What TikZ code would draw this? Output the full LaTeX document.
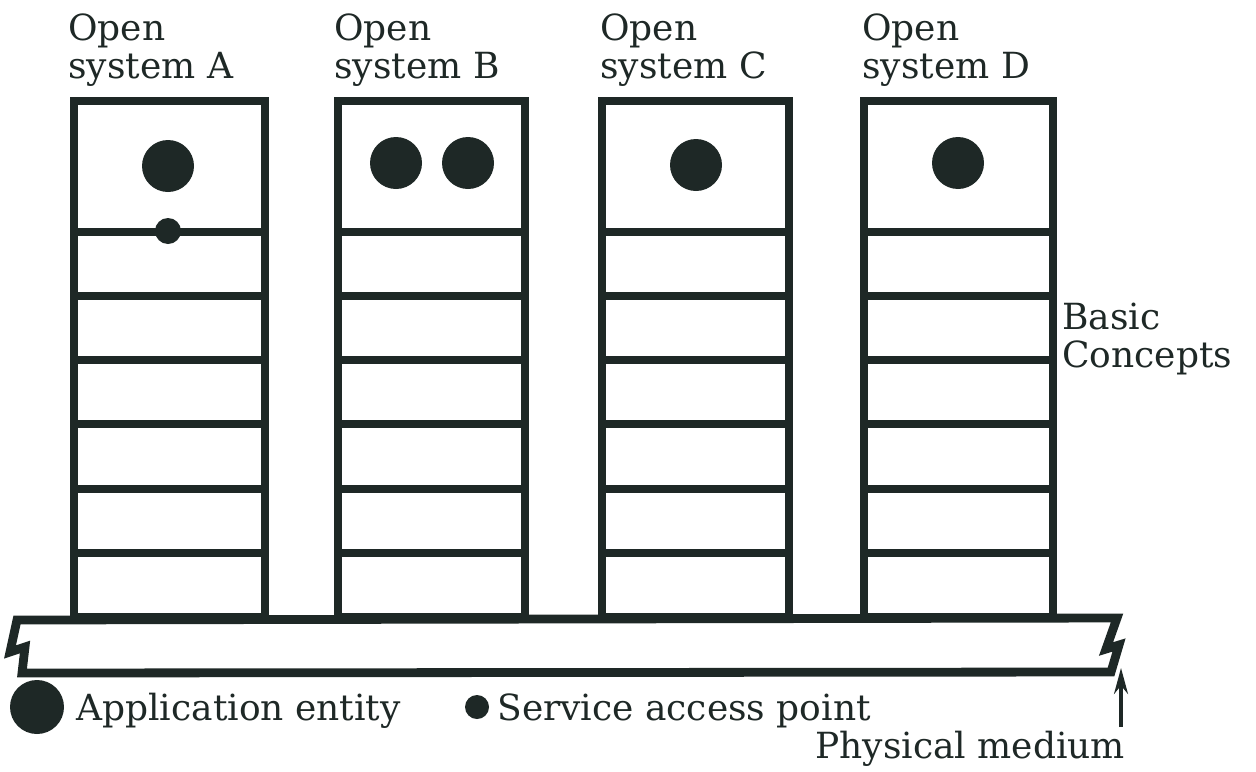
\documentclass[tikz,border=0pt]{standalone}
\usepackage{fontspec}
\setmainfont{DejaVu Serif}
\usetikzlibrary{positioning,arrows.meta}
\definecolor{ink}{HTML}{1E2826}

\begin{document}
\begin{tikzpicture}[x=0.5pt,y=-0.5pt,>=stealth,line join=miter,
entity/.style = {circle, fill = ink, inner sep = 0pt, minimum size = 26pt},
sap/.style = {circle, fill = ink, inner sep = 0pt, minimum size = 13pt},
label/.style = {font=\fontsize{18}{19}\selectfont, text=ink, align=left, inner sep=0pt},
layers/.style = {draw=ink, line width=4.4pt}]
\useasboundingbox (0,0) rectangle (1256,771);
% open systems
\node (sA) at (68,13)[label,anchor=north west] {Open\\system A};
\node (sB) at (334,13)[label,anchor=north west] {Open\\system B};
\node (sC) at (600,13)[label,anchor=north west] {Open\\system C};
\node (sD) at (862,13)[label,anchor=north west] {Open\\system D};
\draw[layers] (74,101) rectangle (265,617) (74,232) -- (265,232) (74,296) -- (265,296) (74,360) -- (265,360) (74,424) -- (265,424) (74,489) -- (265,489) (74,553) -- (265,553);
\draw[layers] (338,101) rectangle (525,617) (338,232) -- (525,232) (338,296) -- (525,296) (338,360) -- (525,360) (338,424) -- (525,424) (338,489) -- (525,489) (338,553) -- (525,553);
\draw[layers] (602,101) rectangle (789,617) (602,232) -- (789,232) (602,296) -- (789,296) (602,360) -- (789,360) (602,424) -- (789,424) (602,489) -- (789,489) (602,553) -- (789,553);
\draw[layers] (864,101) rectangle (1053,617) (864,232) -- (1053,232) (864,296) -- (1053,296) (864,360) -- (1053,360) (864,424) -- (1053,424) (864,489) -- (1053,489) (864,553) -- (1053,553);
% entities and access point
\node (eA) at (168,166)[entity] {};
\node (pA) at (168,231)[sap] {};
\node (eB1) at (396,163)[entity] {};
\node (eB2) at (468,163)[entity] {};
\node (eC) at (696,165)[entity] {};
\node (eD) at (958,163)[entity] {};
\node (bc) at (1062,339)[label,anchor=west] {Basic\\Concepts};
% physical medium
\draw[layers,fill=white] (17,620) -- (1117,618) -- (1106,649) -- (1119,645) -- (1111,672) -- (22,673) -- (25,647) -- (10,652) -- cycle;
\coordinate (m1) at (1121,668);
\coordinate (m0) at (1121,727);
\draw[-{Stealth[length=13pt,width=7pt]},draw=ink,fill=ink,line width=1.6pt] (m0) -- (m1);
% legend
\node (lE) at (37,707)[entity,minimum size=27pt] {};
\node (tE) at (76,720)[label,anchor=base west] {Application entity};
\node (lP) at (477,707)[sap,minimum size=12pt] {};
\node (tP) at (497,720)[label,anchor=base west] {Service access point};
\node (tM) at (815,758)[label,anchor=base west] {Physical medium};
\end{tikzpicture}
\end{document}
